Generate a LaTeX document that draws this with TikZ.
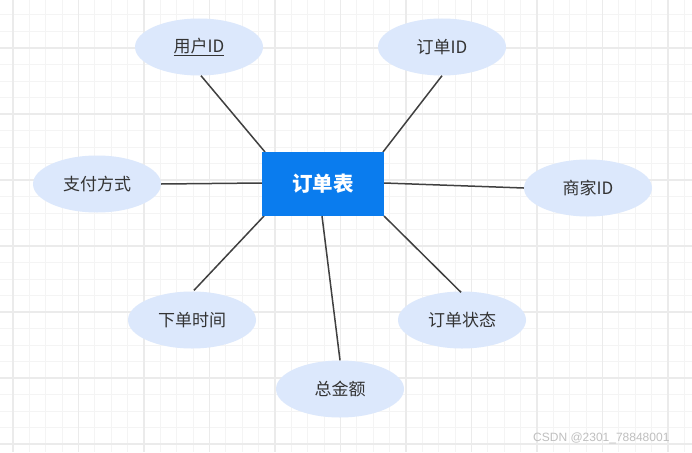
\documentclass[tikz,border=0pt]{standalone}
\usepackage{fontspec}
\setmainfont{Noto Sans CJK SC}
\newfontfamily\wmfont{Liberation Sans}
\usetikzlibrary{shapes.geometric}
\definecolor{gridminor}{HTML}{F4F4F4}
\definecolor{gridmajor}{HTML}{EBEBEB}
\definecolor{attrfill}{HTML}{DCE8FC}
\definecolor{entfill}{HTML}{0A7CEE}
\definecolor{linec}{HTML}{404040}
\definecolor{txtc}{HTML}{333333}
\tikzset{
  attr/.style={ellipse, fill=attrfill, minimum width=128pt, minimum height=57pt, inner sep=0pt, text=txtc, font=\fontsize{17}{20}\selectfont},
  entity/.style={rectangle, fill=entfill, minimum width=122pt, minimum height=64pt, inner sep=0pt, text=white, font=\fontsize{20.5}{24}\selectfont\bfseries},
  conn/.style={draw=linec, line width=1.5pt}
}
\begin{document}
\begin{tikzpicture}[x=1pt,y=-1pt]
\useasboundingbox (0,0) rectangle (692,452);
\fill[white] (0,0) rectangle (692,452);
\foreach \i in {-1,...,42} {
  \draw[gridminor, line width=1pt] ({13+16.375*\i},0) -- ({13+16.375*\i},452);
}
\foreach \i in {-3,...,25} {
  \draw[gridminor, line width=1pt] (0,{48+16.5*\i}) -- (692,{48+16.5*\i});
}
\foreach \i in {0,...,10} {
  \draw[gridmajor, line width=1.3pt] ({13+65.5*\i},0) -- ({13+65.5*\i},452);
}
\foreach \i in {-1,...,6} {
  \draw[gridmajor, line width=1.3pt] (0,{48+66*\i}) -- (692,{48+66*\i});
}
\node[entity] (t) at (323,184) {订单表};
\node[attr] (uid) at (199,47) {\underline{用户ID}};
\node[attr] (oid) at (442,47) {订单ID};
\node[attr] (pay) at (97,184) {支付方式};
\node[attr] (sid) at (588,188) {商家ID};
\node[attr] (time) at (192,320) {下单时间};
\node[attr] (st) at (462,320) {订单状态};
\node[attr] (amt) at (340,389) {总金额};
\coordinate (tUL) at (265,152);
\coordinate (tUR) at (383,152);
\coordinate (tL) at (262,183);
\coordinate (tR) at (384,183);
\coordinate (tLL) at (264,216);
\coordinate (tLR) at (384,216);
\coordinate (tB) at (322,216);
\draw[conn] (uid.south) ++(2,0) -- (tUL);
\draw[conn] (oid.south) -- (tUR);
\draw[conn] (pay.east) -- (tL);
\draw[conn] (tR) -- (sid.west);
\draw[conn] (time.north) ++(2,-1) -- (tLL);
\draw[conn] (st.north) ++(-1,1) -- (tLR);
\draw[conn] (tB) -- (amt.north);
\node[entity] at (t) {订单表};
\node[anchor=east, text=gray!50, font=\wmfont\fontsize{12}{14}\selectfont] (wm) at (673,438) {CSDN @2301\_78848001};
\end{tikzpicture}
\end{document}
